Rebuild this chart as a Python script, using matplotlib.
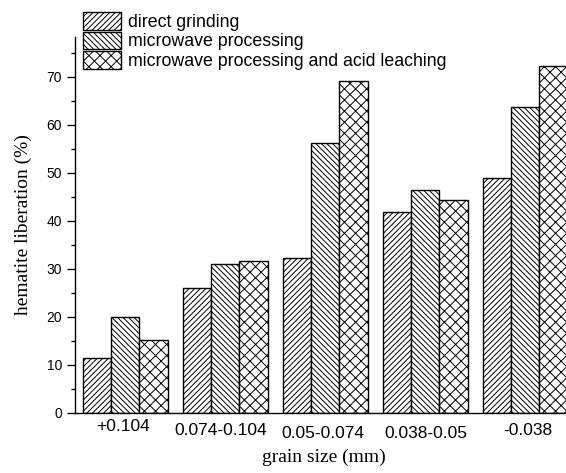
import matplotlib
matplotlib.use("Agg")
import matplotlib.pyplot as plt
import matplotlib.transforms as mtransforms
import numpy as np

# data
categories = ['+0.104', '0.074-0.104', '0.05-0.074', '0.038-0.05', '-0.038']
direct_grinding = [11.3, 25.9, 32.2, 41.8, 49.0]
microwave = [19.9, 31.0, 56.3, 46.4, 63.8]
microwave_acid = [15.2, 31.6, 69.2, 44.3, 72.3]
series_names = ['direct grinding', 'microwave processing',
                'microwave processing and acid leaching']

plt.rcParams['hatch.linewidth'] = 0.7
plt.rcParams['hatch.color'] = '#666666'

fig = plt.figure(figsize=(5.66, 4.73), dpi=100)
ax = fig.add_axes([75.2 / 566, 60.3 / 473, 500 / 566, 375.7 / 473])

x = np.arange(len(categories))
w = 0.283
hatches = ['//////', '\\\\\\\\\\\\', 'xxx']
for i, (vals, h) in enumerate(zip([direct_grinding, microwave, microwave_acid], hatches)):
    ax.bar(x + (i - 1) * w, vals, w, color='white', edgecolor='black',
           linewidth=1.0, hatch=h, label=series_names[i])

ax.set_xlim(-0.5, 4.5)
ax.set_ylim(0, 78.3)
ax.set_yticks(np.arange(0, 80, 10))
ax.set_yticks(np.arange(5, 80, 10), minor=True)
ax.set_xticks(x)
ax.set_xticklabels(categories, fontsize=12.5, family='Liberation Sans')
for lab in ax.get_yticklabels():
    lab.set_family('Liberation Sans')
    lab.set_fontsize(10)
ax.tick_params(axis='y', which='major', direction='out', length=6, width=1, pad=3.5)
ax.tick_params(axis='y', which='minor', direction='out', length=3, width=1)
ax.tick_params(axis='x', length=0, pad=5)

# the original labels sit a bit unevenly under the groups
nudges = [(-2, 1), (-5, -3), (-2, -6), (1, -6), (3, -3)]
for lab, (dx, dy) in zip(ax.get_xticklabels(), nudges):
    off = mtransforms.ScaledTranslation(dx / 100, dy / 100, fig.dpi_scale_trans)
    lab.set_transform(lab.get_transform() + off)

ax.spines[['top', 'right']].set_visible(False)
ax.spines['left'].set_linewidth(1)
ax.spines['bottom'].set_linewidth(1)

ax.set_ylabel('hematite liberation (%)', family='Liberation Serif', fontsize=14)
ax.yaxis.set_label_coords(-0.104, 0.5)
ax.yaxis.label.set_verticalalignment('center')
ax.set_xlabel('grain size (mm)', family='Liberation Serif', fontsize=14)
ax.xaxis.set_label_coords(0.4976, -0.12)
ax.xaxis.label.set_verticalalignment('center')

fig.legend(loc='upper left', bbox_to_anchor=(82.7 / 566, 1 - 12 / 473),
           frameon=False, borderpad=0, borderaxespad=0,
           handlelength=2.17, handleheight=1.14, labelspacing=0.05,
           handletextpad=0.35, prop={'family': 'Liberation Sans', 'size': 12.8})

fig.savefig('out.png', dpi=100)
